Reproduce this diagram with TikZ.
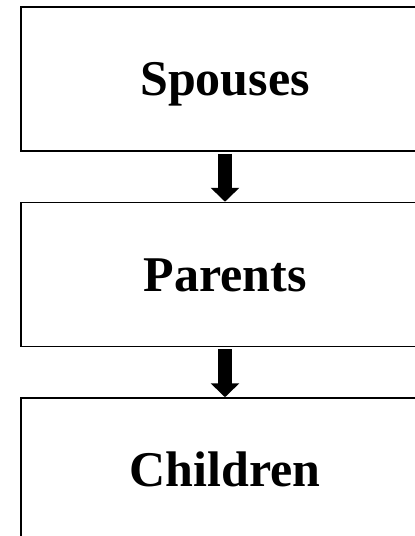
\documentclass[tikz,border=0pt]{standalone}
\usepackage{fontspec}
\setmainfont{Liberation Serif}
\usetikzlibrary{positioning,arrows.meta}

\begin{document}
\begin{tikzpicture}[x=1pt,y=1pt,
		box/.style={draw, line width=1.5pt, minimum width=408pt, minimum height=144pt, inner sep=0pt,
			text height=33pt, text depth=0pt, font=\fontsize{50}{60}\selectfont\bfseries},
		flow/.style={line width=14pt, -{Triangle[width=28pt,length=14pt]}, shorten <=2pt}]
	\clip (0,0) rectangle (415,-536);
	\node (spouses) [box] at (225,-79) {Spouses};
	\node (parents) [box, below=50pt of spouses] {Parents};
	\node (children) [box, below=50pt of parents] {Children};
	\draw [flow] (spouses) -- (parents);
	\draw [flow] (parents) -- (children);
\end{tikzpicture}
\end{document}
